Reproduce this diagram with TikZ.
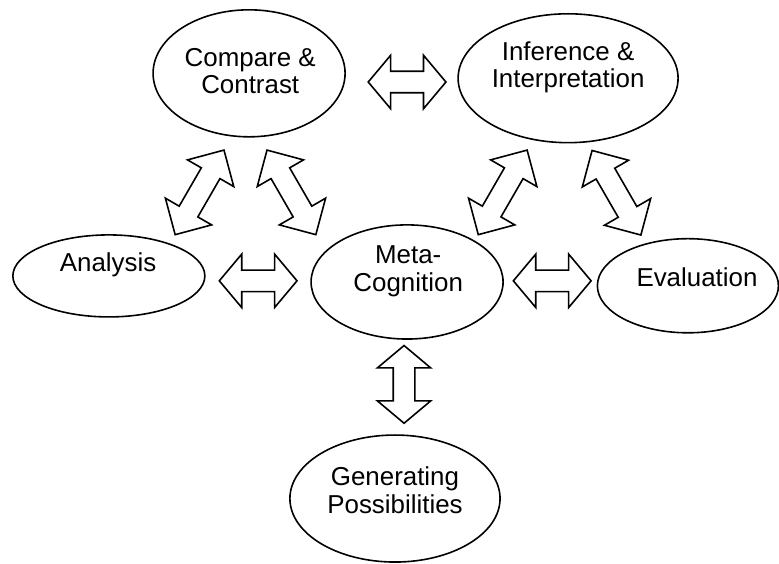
\documentclass[tikz,border=0pt]{standalone}
\usepackage{fontspec}
\setmainfont{Liberation Sans}
\usetikzlibrary{shapes.geometric, shapes.arrows}

\begin{document}
\begin{tikzpicture}[line width=1.2pt,
    idea/.style={draw, ellipse, inner sep=0pt},
    caption/.style={align=center, font=\fontsize{19.5}{21}\selectfont},
    link/.style={draw, double arrow, inner sep=0pt, text height=7.5pt, text depth=7.5pt,
        minimum height=58.5pt, double arrow head extend=12pt, double arrow tip angle=100},
    longlink/.style={link, minimum height=73.5pt, double arrow tip angle=90}]
    \useasboundingbox (0, 0) rectangle (20.61, 14.92);

    % Ellipses
    \node[idea, minimum width=5.08cm, minimum height=3.36cm] (compare) at (6.59, 12.98) {};
    \node[idea, minimum width=5.82cm, minimum height=3.41cm] (inference) at (15.03, 12.85) {};
    \node[idea, minimum width=5.08cm, minimum height=2.17cm] (analysis) at (2.88, 7.62) {};
    \node[idea, minimum width=5.08cm, minimum height=3.02cm] (meta) at (10.77, 7.46) {};
    \node[idea, minimum width=4.79cm, minimum height=2.49cm] (evaluation) at (18.20, 7.36) {};
    \node[idea, minimum width=5.56cm, minimum height=3.36cm] (generating) at (10.45, 1.73) {};

    % Texts
    \node[caption] (compare-text) at (6.62, 13.04) {Compare \&\\Contrast};
    \node[caption] (inference-text) at (15.03, 13.14) {Inference \&\\Interpretation};
    \node[caption] (analysis-text) at (2.86, 7.91) {Analysis};
    \node[caption] (meta-text) at (10.80, 7.74) {Meta-\\Cognition};
    \node[caption] (evaluation-text) at (18.44, 7.59) {Evaluation};
    \node[caption] (generating-text) at (10.45, 1.96) {Generating\\Possibilities};

    % Straight arrows
    \node[link] (top-link) at (10.77, 12.75) {};
    \node[link] (left-link) at (6.83, 7.49) {};
    \node[link] (right-link) at (14.61, 7.49) {};
    \node[link, rotate=90] (down-link) at (10.69, 4.75) {};

    % Slanted arrows
    \node[longlink, rotate=60] (compare-analysis) at (5.28, 9.83) {};
    \node[longlink, rotate=-60] (compare-meta) at (7.71, 9.83) {};
    \node[longlink, rotate=60] (inference-meta) at (13.30, 9.83) {};
    \node[longlink, rotate=-60] (inference-evaluation) at (16.31, 9.82) {};
\end{tikzpicture}
\end{document}
